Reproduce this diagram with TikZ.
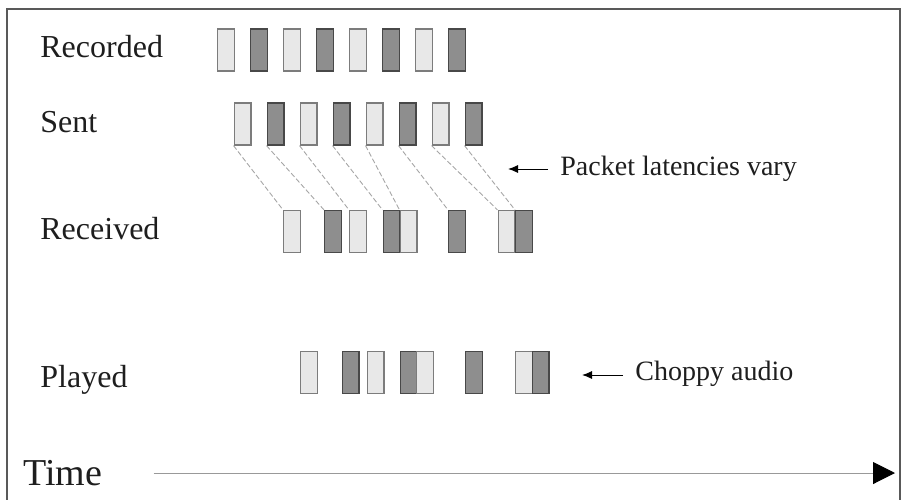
\documentclass[tikz,border=0pt]{standalone}
\usepackage{fontspec}
\setmainfont{Liberation Serif}
\usetikzlibrary{arrows.meta, positioning, calc}
\definecolor{pktlight}{HTML}{E8E8E8}
\definecolor{pktdark}{HTML}{8E8E8E}
\definecolor{pktedge}{HTML}{7C7C7C}
\definecolor{pktedgedk}{HTML}{484848}
\definecolor{txtgray}{HTML}{1E1E1E}

\begin{document}
\begin{tikzpicture}[x=0.5pt, y=-0.5pt,
  pkt/.style={draw, line width=0.6pt, minimum width=8.4pt, minimum height=21pt, inner sep=0pt},
  pktL/.style={pkt, fill=pktlight, draw=pktedge},
  pktD/.style={pkt, fill=pktdark, draw=pktedgedk},
  lbl/.style={anchor=base west, inner sep=0pt, font=\fontsize{16}{19}\selectfont, text=txtgray},
  note/.style={anchor=base west, inner sep=0pt, font=\fontsize{14}{17}\selectfont, text=txtgray},
  lat/.style={draw=gray!70, dash pattern=on 2.5pt off 1.2pt, line width=0.45pt},
  arr/.style={-{Latex[length=5pt, width=4pt]}, line width=0.5pt}]
  \useasboundingbox (0,0) rectangle (904,499);
  % frame, open at the bottom
  \draw[line width=0.8pt, draw=gray!70!black] (7,510) -- (7,9) -- (900,9) -- (900,510);

  % row labels
  \node[lbl] (recLbl) at (40,57) {Recorded};
  \node[lbl] (sntLbl) at (40,132) {Sent};
  \node[lbl] (rcvLbl) at (40,239) {Received};
  \node[lbl] (plyLbl) at (40,387) {Played};
  \node[lbl, font=\fontsize{19}{22}\selectfont] (time) at (23,485) {Time};

  % packets
  \foreach \c [count=\i] in {L,D,L,D,L,D,L,D}
    \node[pkt\c] (rec\i) at ({226+33*(\i-1)}, 50) {};
  \foreach \c [count=\i] in {L,D,L,D,L,D,L,D}
    \node[pkt\c] (snt\i) at ({242.5+33*(\i-1)}, 124) {};
  \foreach \x/\c [count=\i] in {292/L, 333/D, 358/L, 391.5/D, 408.5/L, 457/D, 506.5/L, 524/D}
    \node[pkt\c] (rcv\i) at (\x, 231.5) {};
  \foreach \x/\c [count=\i] in {309/L, 350.5/D, 375.5/L, 408.5/D, 425/L, 474/D, 524/L, 540.5/D}
    \node[pkt\c] (ply\i) at (\x, 372.5) {};

  % latency lines
  \foreach \i in {1,...,8}
    \draw[lat] (snt\i.south west) -- (rcv\i.north west);

  % notes
  \node[note] (latNote) at (560,175) {Packet latencies vary};
  \coordinate (latTip) at (508,169);
  \draw[arr] ($(latNote.west |- latTip)+(-12,0)$) -- (latTip);
  \node[note] (chopNote) at (635,380) {Choppy audio};
  \coordinate (chopTip) at (582,375);
  \draw[arr] ($(chopNote.west |- chopTip)+(-12,0)$) -- (chopTip);

  % time axis
  \coordinate (tEnd) at (895,473);
  \draw[draw=gray!80, line width=0.5pt, -{Triangle[length=11pt, width=11pt, color=black]}]
    ($(time.east |- tEnd)+(51,0)$) -- (tEnd);
\end{tikzpicture}
\end{document}
